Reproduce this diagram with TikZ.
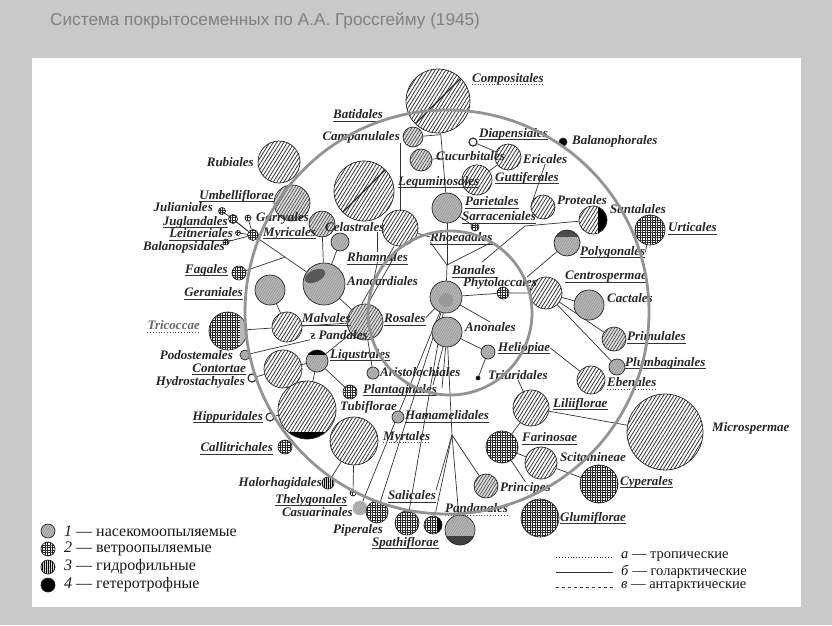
\documentclass[tikz,border=0pt]{standalone}
\usepackage{fontspec}
\setmainfont{Liberation Serif}
\newfontfamily\titlefont{Liberation Sans}
\usepackage{graphicx}
\usetikzlibrary{patterns.meta,calc}

\pgfdeclarelayer{back}
\pgfsetlayers{back,main}

\newcommand\lf{\fontsize{13}{15}\selectfont\bfseries\itshape}
\newcommand\lgf{\fontsize{16}{17}\selectfont}
\newcommand\lgs{\fontsize{14.5}{15}\selectfont}

\tikzset{
  lab/.style={inner sep=0pt, font=\lf, text=black!85},
  ul/.style={append after command={([yshift=-2.5pt]\tikzlastnode.base west) edge[black!80, line width=0.6pt] ([yshift=-2.5pt]\tikzlastnode.base east)}},
  udot/.style={append after command={([yshift=-2.5pt]\tikzlastnode.base west) edge[black!70, line width=0.8pt, dotted] ([yshift=-2.5pt]\tikzlastnode.base east)}},
  leg/.style={inner sep=0pt, font=\lgf, text=black!90},
  tx/.style={circle, draw=black!85, line width=0.7pt, inner sep=0pt},
  hat/.style={tx, preaction={fill=white}, pattern={Lines[angle=58,distance=3pt,line width=0.8pt]}, pattern color=black!80},
  hatg/.style={tx, preaction={fill=gray!30}, pattern={Lines[angle=58,distance=2.6pt,line width=0.6pt]}, pattern color=black!75},
  ins/.style={tx, preaction={fill=gray!55}, pattern={Lines[angle=58,distance=2pt,line width=0.3pt]}, pattern color=black!50},
  wnd/.style={tx, preaction={fill=white}, pattern={Hatch[distance=2.5pt,line width=1pt]}, pattern color=black!85},
  hyd/.style={tx, preaction={fill=gray!40}, pattern={Lines[angle=90,distance=2pt,line width=0.8pt]}, pattern color=black},
  het/.style={tx, fill=black},
  emp/.style={tx, fill=white, line width=1.1pt},
  slash/.style={path picture={\draw[line width=1.2pt] (path picture bounding box.south west) -- (path picture bounding box.north east);}},
  lnk/.style={draw=black!80, line width=0.7pt},
  ring/.style={draw=gray!85, line width=2.8pt},
}

\begin{document}
\begin{tikzpicture}[x=1pt,y=-1pt]
\useasboundingbox (0,0) rectangle (832,625);
\begin{pgfonlayer}{back}
\fill[gray!42] (0,0) rectangle (832,625);
\fill[white] (32,58) rectangle (801,607);
\end{pgfonlayer}

\node[font=\titlefont\fontsize{17.2}{20}\selectfont, text=black!50, anchor=west, inner sep=0pt] (title) at (50,21) {Система покрытосеменных по А.А. Гроссгейму (1945)};

% taxa
\node[hat, slash, minimum size=64] (comp) at (438,101) {};
\node[hatg, minimum size=20] (camp) at (413,137) {};
\node[hatg, minimum size=22] (cucu) at (421,160) {};
\node[hat, slash, minimum size=60] (legu) at (364,191) {};
\node[hat, minimum size=42] (rubi) at (279,162) {};
\node[hatg, minimum size=36] (umbe) at (292,203) {};
\node[wnd, minimum size=7] (juli) at (222,211) {};
\node[wnd, minimum size=9] (jugl) at (233,219) {};
\node[wnd, minimum size=6] (garr) at (248,218) {};
\node[wnd, minimum size=5] (leit) at (238,233) {};
\node[wnd, minimum size=11] (myri) at (253,235) {};
\node[wnd, minimum size=6] (balp) at (226,242) {};
\node[hatg, minimum size=26] (cela) at (322,224) {};
\node[ins, minimum size=18] (rham) at (340,242) {};
\node[hat, minimum size=36] (celb) at (400,228) {};
\node[ins, minimum size=42, path picture={\fill[black!65] ([xshift=-9pt,yshift=8pt]path picture bounding box.center) ellipse [x radius=11pt, y radius=6pt, rotate=25];}] (anac) at (324,284) {};
\node[ins, minimum size=30] (gera) at (270,290) {};
\node[wnd, minimum size=14] (faga) at (239,273) {};
\node[wnd, minimum size=38, path picture={\fill[gray!55] ([xshift=-7pt]path picture bounding box.north east) rectangle (path picture bounding box.south east);}] (tric) at (228,331) {};
\node[hat, minimum size=30] (malv) at (287,327) {};
\node[hatg, minimum size=36] (rosa) at (365,322) {};
\node[ins, minimum size=32, path picture={\fill[gray!80] ([yshift=-3pt]path picture bounding box.center) circle [radius=7pt];}] (bana) at (446,297) {};
\node[wnd, minimum size=12] (phyt) at (503,293) {};
\node[hat, minimum size=32] (cent) at (546,293) {};
\node[ins, minimum size=30] (cact) at (589,305) {};
\node[ins, minimum size=26, path picture={\fill[black!70] ([xshift=-4pt]path picture bounding box.north west) rectangle ([yshift=-7pt]path picture bounding box.north east);}] (poly) at (567,243) {};
\node[hat, minimum size=28, path picture={\fill[black] ([xshift=-9pt]path picture bounding box.north east) rectangle (path picture bounding box.south east);}] (sant) at (593,220) {};
\node[wnd, minimum size=30] (urti) at (650,230) {};
\node[hat, minimum size=24] (prot) at (543,207) {};
\node[het, minimum size=8] (balo) at (563,142) {};
\node[emp, minimum size=8] (diap) at (473,142) {};
\node[hat, minimum size=26] (eric) at (508,157) {};
\node[hat, minimum size=30] (gutt) at (477,180) {};
\node[ins, minimum size=30] (pari) at (447,208) {};
\node[wnd, minimum size=8] (sarr) at (475,227) {};
\node[ins, minimum size=30] (anon) at (447,332) {};
\node[ins, minimum size=14] (heli) at (488,352) {};
\node[het, minimum size=4] (triu) at (478,378) {};
\node[ins, minimum size=12] (aris) at (373,373) {};
\node[wnd, minimum size=14] (plan) at (350,392) {};
\node[ins, minimum size=22, path picture={\fill[black] (path picture bounding box.north west) rectangle ([yshift=-5pt]path picture bounding box.north east);}] (ligu) at (317,361) {};
\node[hat, minimum size=38] (cont) at (283,369) {};
\node[ins, minimum size=10] (podo) at (245,355) {};
\node[emp, minimum size=8] (hydr) at (252,378) {};
\node[hat, slash, minimum size=58, path picture={\fill[black] (path picture bounding box.south west) rectangle ([yshift=7pt]path picture bounding box.south east);}] (tubi) at (307,410) {};
\node[emp, minimum size=8] (hipp) at (270,417) {};
\node[wnd, minimum size=14] (call) at (285,447) {};
\node[hat, minimum size=48] (myrt) at (354,441) {};
\node[ins, minimum size=12] (hama) at (398,417) {};
\node[hyd, minimum size=12] (halo) at (328,483) {};
\node[wnd, minimum size=6] (thel) at (353,493) {};
\node[ins, draw=gray!55, minimum size=14] (casu) at (360,508) {};
\node[wnd, minimum size=22] (pipe) at (377,512) {};
\node[wnd, minimum size=24] (spat) at (407,523) {};
\node[wnd, minimum size=18, path picture={\fill[black] ([xshift=-5pt]path picture bounding box.north east) rectangle (path picture bounding box.south east);}] (sdrk) at (433,525) {};
\node[ins, minimum size=30, path picture={\fill[black!75] (path picture bounding box.south west) rectangle ([yshift=9pt]path picture bounding box.south east);}] (pand) at (460,530) {};
\node[hatg, minimum size=24] (prin) at (486,486) {};
\node[wnd, minimum size=38] (glum) at (540,518) {};
\node[wnd, minimum size=38] (cype) at (599,484) {};
\node[hat, minimum size=32] (scit) at (541,463) {};
\node[wnd, minimum size=32] (fari) at (502,447) {};
\node[hat, minimum size=36] (lili) at (531,408) {};
\node[hat, minimum size=76] (micr) at (665,432) {};
\node[hat, minimum size=28] (eben) at (591,380) {};
\node[hatg, minimum size=24] (prim) at (614,339) {};
\node[ins, minimum size=16] (plum) at (617,367) {};

% labels
\node[lab, udot, anchor=west] (compL) at (472,79) {Compositales};
\node[lab, ul, anchor=west] (batiL) at (333,114) {Batidales};
\node[lab, anchor=east] (campL) at (400,137) {Campanulales};
\node[lab, anchor=west] (cucuL) at (436,156) {Cucurbitales};
\node[lab, ul, anchor=west] (diapL) at (479,134) {Diapensiales};
\node[lab, anchor=west] (baloL) at (572,141) {Balanophorales};
\node[lab, anchor=west] (ericL) at (523,159) {Ericales};
\node[lab, ul, anchor=west] (guttL) at (495,178) {Guttiferales};
\node[lab, ul, anchor=west] (leguL) at (398,182) {Leguminosales};
\node[lab, ul, anchor=west] (pariL) at (465,201) {Parietales};
\node[lab, ul, anchor=west] (sarrL) at (462,216) {Sarraceniales};
\node[lab, anchor=west] (protL) at (557,200) {Proteales};
\node[lab, anchor=west] (santL) at (610,209) {Santalales};
\node[lab, ul, anchor=west] (urtiL) at (668,227) {Urticales};
\node[lab, anchor=east] (rubiL) at (254,162) {Rubiales};
\node[lab, ul, anchor=east] (umbeL) at (274,196) {Umbelliflorae};
\node[lab, anchor=east] (juliL) at (213,207) {Julianiales};
\node[lab, ul, anchor=east] (juglL) at (228,222) {Juglandales};
\node[lab, anchor=west] (garrL) at (256,218) {Garryales};
\node[lab, ul, anchor=east] (leitL) at (233,233) {Leitneriales};
\node[lab, ul, anchor=west] (myriL) at (263,233) {Myricales};
\node[lab, anchor=east] (balpL) at (225,247) {Balanopsidales};
\node[lab, anchor=west] (celaL) at (325,227) {Celastrales};
\node[lab, ul, anchor=west] (rhamL) at (347,257) {Rhamnales};
\node[lab, ul, anchor=west] (rhoeL) at (430,237) {Rhoeadales};
\node[lab, ul, anchor=west] (banaL) at (452,270) {Banales};
\node[lab, anchor=west] (phytL) at (463,283) {Phytolaccales};
\node[lab, ul, anchor=west] (centL) at (565,277) {Centrospermae};
\node[lab, ul, anchor=west] (polyL) at (580,252) {Polygonales};
\node[lab, anchor=west] (cactL) at (607,298) {Cactales};
\node[lab, anchor=west] (anacL) at (347,281) {Anacardiales};
\node[lab, ul, anchor=east] (fagaL) at (228,270) {Fagales};
\node[lab, ul, anchor=east] (geraL) at (243,292) {Geraniales};
\node[lab, udot, anchor=east, text=black!60] (tricL) at (200,325) {Tricoccae};
\node[lab, ul, anchor=west] (malvL) at (302,318) {Malvales};
\node[lab, anchor=west] (pandL) at (310,335) {\reflectbox{s} Pandales};
\node[lab, ul, anchor=west] (rosaL) at (384,318) {Rosales};
\node[lab, anchor=west] (anonL) at (465,327) {Anonales};
\node[lab, ul, anchor=west] (primL) at (627,336) {Primulales};
\node[lab, anchor=east] (podoL) at (233,355) {Podostemales};
\node[lab, ul, anchor=west] (liguL) at (330,355) {Ligustrales};
\node[lab, ul, anchor=east] (contL) at (246,368) {Contortae};
\node[lab, anchor=east] (hydrL) at (245,382) {Hydrostachyales};
\node[lab, anchor=west] (arisL) at (380,372) {Aristolochiales};
\node[lab, ul, anchor=west] (heliL) at (498,348) {Heliopiae};
\node[lab, ul, anchor=west] (plumL) at (625,363) {Plumbaginales};
\node[lab, anchor=west] (triuL) at (488,375) {Triuridales};
\node[lab, udot, anchor=west] (ebenL) at (607,382) {Ebenales};
\node[lab, ul, anchor=west] (planL) at (363,390) {Plantaginales};
\node[lab, ul, anchor=west] (liliL) at (553,404) {Liliiflorae};
\node[lab, anchor=west] (tubiL) at (340,407) {Tubiflorae};
\node[lab, ul, anchor=east] (hippL) at (263,417) {Hippuridales};
\node[lab, ul, anchor=west] (hamaL) at (405,415) {Hamamelidales};
\node[lab, anchor=west] (micrL) at (712,428) {Microspermae};
\node[lab, udot, anchor=west] (myrtL) at (383,437) {Myrtales};
\node[lab, ul, anchor=west] (fariL) at (522,437) {Farinosae};
\node[lab, ul, anchor=east] (callL) at (273,447) {Callitrichales};
\node[lab, anchor=west] (scitL) at (560,457) {Scitamineae};
\node[lab, anchor=east] (haloL) at (322,483) {Halorhagidales};
\node[lab, ul, anchor=west] (cypeL) at (620,482) {Cyperales};
\node[lab, anchor=west] (prinL) at (500,488) {Principes};
\node[lab, ul, anchor=west] (saliL) at (388,495) {Salicales};
\node[lab, ul, anchor=east] (thelL) at (347,500) {Thelygonales};
\node[lab, udot, anchor=west] (pandnL) at (445,508) {Pandanales};
\node[lab, anchor=east] (casuL) at (353,512) {Casuarinales};
\node[lab, ul, anchor=west] (glumL) at (560,518) {Glumiflorae};
\node[lab, anchor=west] (pipeL) at (333,530) {Piperales};
\node[lab, ul, anchor=west] (spatL) at (372,543) {Spathiflorae};

% legend
\foreach \s/\n/\t [count=\k] in {ins/1/насекомоопыляемые, wnd/2/ветроопыляемые, hyd/3/гидрофильные, het/4/гетеротрофные} {
  \node[\s, minimum size=14] (key\k) at (48,513+18*\k) {};
  \node[leg, anchor=west] (keyL\k) at (64,513+18*\k) {\textit{\n} — \t};
}
\foreach \s/\n/\t [count=\k] in {dotted/а/тропические, solid/б/голарктические, dashed/в/антарктические} {
  \node[leg, font=\lgs, anchor=west] (geo\k) at (621,542+15*\k) {\textit{\n} — \t};
  \coordinate (geoA\k) at (556,542+15*\k);
  \draw[\s, line width=0.9pt, black!80] (geoA\k) -- ([xshift=-8]geo\k.west);
}

% connectors
\coordinate (jF) at ($(myri)!0.45!(anac)$);
\coordinate (jR) at (447,265);
\coordinate (jA) at (452,435);
\coordinate (jA1) at (433,385);
\coordinate (jA2) at (442,388);
\coordinate (jP) at (527,277);
\coordinate (jS) at (525,226);
\coordinate (jT) at (482,262);
\begin{pgfonlayer}{back}
\draw[lnk] (comp) -- (pari);
\draw[lnk] (camp) -- ($(comp)!(camp)!(pari)$);
\draw[lnk] (cucu) -- ($(comp)!(cucu)!(pari)$);
\draw[lnk] (celb) -- (celb |- campL.south);
\draw[lnk] (diap) -- (eric);
\draw[lnk] (eric) -- (gutt);
\draw[lnk] (pari) -- (sarr);
\draw[lnk] (pari) -- (jR);
\draw[lnk] (rhoeL.south west) -- (jR) -- (rhoeL.south east);
\draw[lnk] (jR) -- (bana);
\draw[lnk] (celb) -- (rhoeL.west);
\draw[lnk] ([xshift=-3pt]rosa.north) -- ([xshift=-6pt]celb.south);
\draw[lnk] ([xshift=3pt]rosa.north) -- ([xshift=0pt]celb.south);
\draw[lnk] (rhamL.north) -- (rhamL.north |- celaL.south);
\draw[lnk] (rosa) -- (rhamL.south);
\draw[lnk] (anac) -- (cela);
\draw[lnk] (anac) -- (rham);
\draw[lnk] (anac) -- (myri);
\draw[lnk] (faga) -- (jF);
\foreach \t in {juli,jugl,garr,leit,balp} \draw[lnk] (myri) -- (\t);
\draw[lnk] (anac) -- (rosa);
\draw[lnk] (gera) -- (malv);
\draw[lnk] (malv) -- (tric);
\draw[lnk] (malv) -- (rosa);
\draw[lnk] (podo) -- (pandL.south west);
\draw[lnk] (cont) -- (hydr);
\draw[lnk] (cont) -- (ligu);
\draw[lnk] (rosa) -- (ligu);
\draw[lnk] (ligu) -- (tubi);
\draw[lnk] (ligu) -- (plan);
\draw[lnk] (tubi) -- (hipp);
\draw[lnk] (rosa) -- (aris);
\draw[lnk] (bana) -- (rosaL.east);
\draw[lnk] (bana) -- (anonL.north);
\draw[lnk] (bana) -- (casu);
\draw[lnk] (bana) -- (pipe);
\draw[lnk] (bana) -- (spat);
\draw[lnk] (bana) -- (phyt) -- (cent);
\draw[lnk] (cent) -- (cact);
\draw[lnk] (cent) -- (prim);
\draw[lnk] (cent) -- (plum);
\draw[lnk] (poly) -- (jP);
\draw[lnk] (sant) -- (jS) -- (jT);
\draw[lnk] (ericL.south) -- (prot.west);
\draw[lnk] (urti) -- (polyL.east);
\draw[lnk] (heli) -- (anon);
\draw[lnk] (heli) -- (triu);
\draw[lnk] (heliL.east) -- (eben);
\draw[lnk] (anon) -- (jA);
\draw[lnk] (anon) -- (jA1);
\draw[lnk] (anon) -- (jA2);
\draw[lnk] (jA) -- (saliL.north east);
\draw[lnk] (jA) -- (sdrk);
\draw[lnk] (jA) -- (pand);
\draw[lnk] (jA) -- (prin);
\draw[lnk] (triuL.south) -- (lili);
\draw[lnk] (lili) -- (micr);
\draw[lnk] (lili) -- (fari);
\draw[lnk] (fari) -- (scit);
\draw[lnk] (fari) -- (prinL.north);
\draw[lnk] (scit) -- (cype);
\draw[lnk] (myrt) -- (halo);
\draw[lnk] (myrt) -- (thel);
\end{pgfonlayer}

\draw[ring] (447,312) circle [radius=202];
\draw[ring] (450,313) circle [radius=82];
\end{tikzpicture}
\end{document}
